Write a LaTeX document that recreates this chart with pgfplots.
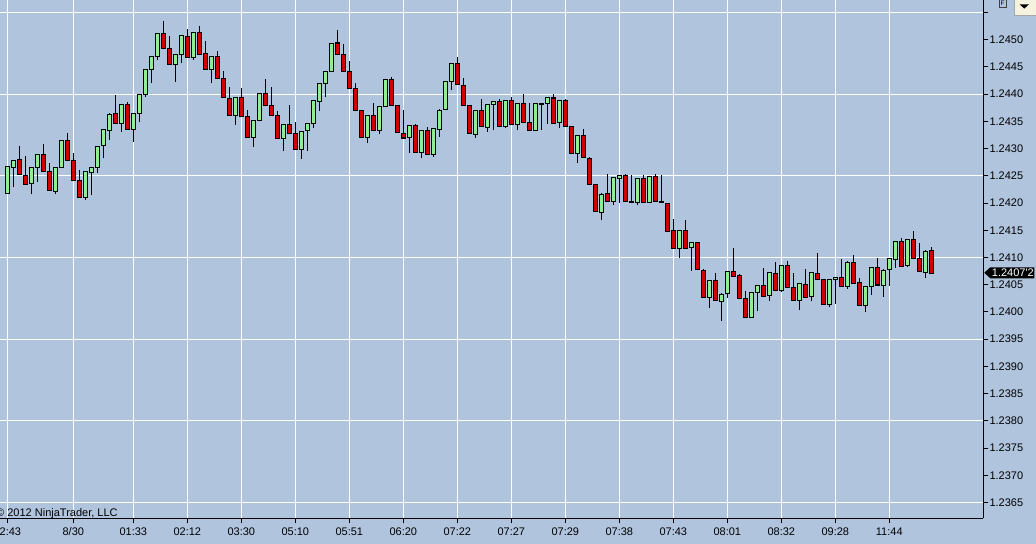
\documentclass[border=0pt]{standalone}
\usepackage{fontspec}
\setmainfont{Liberation Sans}
\usepackage{pgfplots}
\usepackage{pgfplotstable}
\pgfplotsset{compat=1.18}

\definecolor{chartbg}{RGB}{176,196,222}
\definecolor{upbar}{RGB}{144,238,144}
\definecolor{downbar}{RGB}{210,0,0}
\definecolor{btnfill}{RGB}{246,242,224}

% range bars: index, open, high, low, close
\pgfplotstableread{
i o h l c
0 1.24218 1.24269 1.24217 1.24268
1 1.24267 1.24280 1.24229 1.24280
2 1.24280 1.24305 1.24253 1.24253
3 1.24253 1.24287 1.24236 1.24236
4 1.24236 1.24266 1.24216 1.24266
5 1.24266 1.24290 1.24238 1.24290
6 1.24290 1.24309 1.24258 1.24258
7 1.24258 1.24273 1.24223 1.24223
8 1.24223 1.24266 1.24216 1.24266
9 1.24266 1.24316 1.24266 1.24316
10 1.24315 1.24329 1.24279 1.24279
11 1.24279 1.24292 1.24242 1.24242
12 1.24242 1.24260 1.24211 1.24211
13 1.24211 1.24258 1.24206 1.24258
14 1.24258 1.24266 1.24215 1.24266
15 1.24266 1.24305 1.24255 1.24305
16 1.24305 1.24334 1.24282 1.24334
17 1.24334 1.24365 1.24315 1.24365
18 1.24365 1.24399 1.24347 1.24347
19 1.24347 1.24382 1.24331 1.24382
20 1.24382 1.24386 1.24336 1.24336
21 1.24336 1.24365 1.24313 1.24365
22 1.24365 1.24400 1.24348 1.24400
23 1.24400 1.24445 1.24394 1.24445
24 1.24445 1.24470 1.24420 1.24470
25 1.24470 1.24512 1.24462 1.24512
26 1.24512 1.24535 1.24485 1.24485
27 1.24485 1.24506 1.24455 1.24455
28 1.24455 1.24473 1.24423 1.24473
29 1.24473 1.24508 1.24457 1.24508
30 1.24508 1.24519 1.24469 1.24469
31 1.24469 1.24514 1.24463 1.24514
32 1.24514 1.24526 1.24475 1.24475
33 1.24475 1.24497 1.24446 1.24446
34 1.24446 1.24470 1.24420 1.24470
35 1.24470 1.24480 1.24429 1.24429
36 1.24429 1.24443 1.24393 1.24393
37 1.24393 1.24414 1.24361 1.24361
38 1.24361 1.24394 1.24344 1.24394
39 1.24394 1.24412 1.24359 1.24359
40 1.24359 1.24371 1.24321 1.24321
41 1.24321 1.24353 1.24303 1.24353
42 1.24353 1.24402 1.24353 1.24402
43 1.24402 1.24428 1.24379 1.24379
44 1.24379 1.24413 1.24361 1.24361
45 1.24361 1.24370 1.24319 1.24319
46 1.24319 1.24345 1.24295 1.24345
47 1.24345 1.24380 1.24330 1.24330
48 1.24330 1.24348 1.24299 1.24299
49 1.24299 1.24333 1.24281 1.24333
50 1.24333 1.24347 1.24296 1.24347
51 1.24347 1.24388 1.24337 1.24388
52 1.24388 1.24420 1.24370 1.24420
53 1.24420 1.24443 1.24394 1.24443
54 1.24443 1.24494 1.24443 1.24494
55 1.24494 1.24518 1.24472 1.24472
56 1.24472 1.24493 1.24442 1.24442
57 1.24442 1.24461 1.24411 1.24411
58 1.24411 1.24421 1.24371 1.24371
59 1.24371 1.24371 1.24321 1.24321
60 1.24321 1.24361 1.24311 1.24361
61 1.24361 1.24384 1.24334 1.24334
62 1.24334 1.24378 1.24326 1.24378
63 1.24378 1.24428 1.24378 1.24428
64 1.24428 1.24431 1.24380 1.24380
65 1.24380 1.24380 1.24330 1.24330
66 1.24330 1.24371 1.24321 1.24321
67 1.24321 1.24343 1.24292 1.24343
68 1.24343 1.24345 1.24293 1.24293
69 1.24293 1.24334 1.24282 1.24334
70 1.24334 1.24339 1.24290 1.24290
71 1.24290 1.24337 1.24285 1.24337
72 1.24337 1.24372 1.24322 1.24372
73 1.24372 1.24424 1.24372 1.24424
74 1.24424 1.24457 1.24407 1.24457
75 1.24457 1.24469 1.24417 1.24417
76 1.24417 1.24429 1.24380 1.24380
77 1.24380 1.24380 1.24328 1.24328
78 1.24328 1.24371 1.24320 1.24371
79 1.24371 1.24391 1.24341 1.24341
80 1.24341 1.24382 1.24331 1.24382
81 1.24382 1.24387 1.24334 1.24387
82 1.24387 1.24391 1.24341 1.24341
83 1.24341 1.24389 1.24337 1.24389
84 1.24389 1.24394 1.24345 1.24345
85 1.24345 1.24383 1.24334 1.24383
86 1.24383 1.24400 1.24348 1.24348
87 1.24348 1.24383 1.24334 1.24334
88 1.24334 1.24382 1.24332 1.24382
89 1.24383 1.24383 1.24334 1.24383
90 1.24383 1.24394 1.24345 1.24394
91 1.24394 1.24400 1.24348 1.24348
92 1.24348 1.24389 1.24337 1.24389
93 1.24389 1.24391 1.24341 1.24341
94 1.24341 1.24341 1.24292 1.24292
95 1.24292 1.24325 1.24274 1.24325
96 1.24325 1.24336 1.24284 1.24284
97 1.24284 1.24284 1.24235 1.24235
98 1.24235 1.24235 1.24185 1.24185
99 1.24185 1.24218 1.24168 1.24218
100 1.24218 1.24253 1.24203 1.24203
101 1.24203 1.24247 1.24196 1.24247
102 1.24247 1.24251 1.24201 1.24251
103 1.24251 1.24253 1.24203 1.24203
104 1.24203 1.24251 1.24203 1.24203
105 1.24201 1.24246 1.24196 1.24246
106 1.24246 1.24251 1.24201 1.24201
107 1.24201 1.24249 1.24200 1.24249
108 1.24249 1.24253 1.24203 1.24203
109 1.24203 1.24251 1.24203 1.24203
110 1.24201 1.24201 1.24150 1.24150
111 1.24151 1.24170 1.24118 1.24118
112 1.24118 1.24150 1.24099 1.24150
113 1.24150 1.24169 1.24118 1.24118
114 1.24118 1.24128 1.24075 1.24128
115 1.24128 1.24128 1.24078 1.24078
116 1.24078 1.24078 1.24028 1.24028
117 1.24028 1.24058 1.24007 1.24058
118 1.24058 1.24071 1.24021 1.24021
119 1.24021 1.24034 1.23984 1.24034
120 1.24034 1.24076 1.24026 1.24076
121 1.24076 1.24118 1.24067 1.24067
122 1.24067 1.24069 1.24026 1.24026
123 1.24026 1.24039 1.23990 1.23990
124 1.23990 1.24037 1.23990 1.24037
125 1.24037 1.24050 1.24001 1.24050
126 1.24050 1.24080 1.24030 1.24030
127 1.24030 1.24072 1.24021 1.24072
128 1.24072 1.24092 1.24041 1.24041
129 1.24041 1.24087 1.24037 1.24087
130 1.24087 1.24094 1.24045 1.24045
131 1.24045 1.24071 1.24021 1.24021
132 1.24021 1.24052 1.24003 1.24052
133 1.24052 1.24078 1.24028 1.24028
134 1.24028 1.24072 1.24021 1.24072
135 1.24072 1.24109 1.24060 1.24060
136 1.24060 1.24060 1.24015 1.24015
137 1.24015 1.24061 1.24010 1.24061
138 1.24061 1.24065 1.24015 1.24065
139 1.24065 1.24098 1.24048 1.24048
140 1.24048 1.24093 1.24043 1.24093
141 1.24093 1.24104 1.24054 1.24054
142 1.24054 1.24063 1.24013 1.24013
143 1.24013 1.24048 1.23999 1.24048
144 1.24048 1.24083 1.24032 1.24083
145 1.24083 1.24100 1.24050 1.24050
146 1.24050 1.24078 1.24028 1.24078
147 1.24078 1.24098 1.24048 1.24098
148 1.24098 1.24131 1.24081 1.24131
149 1.24131 1.24135 1.24085 1.24085
150 1.24085 1.24133 1.24083 1.24133
151 1.24133 1.24148 1.24098 1.24098
152 1.24098 1.24126 1.24074 1.24074
153 1.24074 1.24113 1.24063 1.24113
154 1.24113 1.24120 1.24072 1.24072
}\bars

\begin{document}
\begin{tikzpicture}[x=1bp, y=1bp, font=\fontsize{11bp}{13bp}\selectfont]
\path[use as bounding box, fill=chartbg] (0bp,0bp) rectangle (1036bp,544bp);

\begin{axis}[
    at={(0bp,25.7bp)}, anchor=south west,
    width=983.3bp, height=518.3bp, scale only axis,
    xmin=-1.217, xmax=162.67,
    ymin=1.23621, ymax=1.24573,
    axis x line*=bottom, axis y line*=right,
    axis line style={black, line width=1bp},
    tick style={black, line width=1bp},
    tick align=outside, major tick length=5bp, minor tick length=0pt,
    xtick={0,11,21,30,39,48,57,66,75,84,93,102,111,120,129,138,147},
    xticklabels={22:43,8/30,01:33,02:12,03:30,05:10,05:51,06:20,07:22,07:27,07:29,07:38,07:43,08:01,08:32,09:28,11:44},
    ytick={1.2365,1.2370,1.2375,1.2380,1.2385,1.2390,1.2395,1.2400,1.2405,1.2410,
           1.2415,1.2420,1.2425,1.2430,1.2435,1.2440,1.2445,1.2450,1.2455},
    yticklabels={1.2365,1.2370,1.2375,1.2380,1.2385,1.2390,1.2395,1.2400,1.2405,1.2410,
           1.2415,1.2420,1.2425,1.2430,1.2435,1.2440,1.2445,1.2450,{}},
    minor ytick={1.2365,1.2380,1.2395,1.2410,1.2425,1.2440,1.2455},
    xmajorgrids, yminorgrids,
    grid style={white, line width=1bp},
    xticklabel style={inner sep=0pt, anchor=base, yshift=-12.4bp},
    yticklabel style={inner sep=0pt, xshift=1bp},
]
% wicks
\addplot[draw=none, mark=none, forget plot,
    error bars/.cd, y dir=plus, y explicit, error mark=none,
    error bar style={draw=black, line width=1bp}]
    table[x=i, y=l, y error expr=\thisrow{h}-\thisrow{l}] {\bars};
% body outlines
\addplot[draw=none, mark=none, forget plot,
    error bars/.cd, y dir=both, y explicit, error mark=none,
    error bar style={draw=black, line width=5bp, line cap=butt}]
    table[x=i, y expr={(\thisrow{o}+\thisrow{c})/2},
          y error expr={abs(\thisrow{c}-\thisrow{o})/2+0.0000092}] {\bars};
% up bodies
\addplot[draw=none, mark=none, forget plot,
    error bars/.cd, y dir=both, y explicit, error mark=none,
    error bar style={draw=upbar, line width=3bp, line cap=butt}]
    table[x=i, y expr={(\thisrow{o}+\thisrow{c})/2},
          y error expr={max((\thisrow{c}-\thisrow{o})/2-0.0000092,0)}] {\bars};
% down bodies
\addplot[draw=none, mark=none, forget plot,
    error bars/.cd, y dir=both, y explicit, error mark=none,
    error bar style={draw=downbar, line width=3bp, line cap=butt}]
    table[x=i, y expr={(\thisrow{o}+\thisrow{c})/2},
          y error expr={max((\thisrow{o}-\thisrow{c})/2-0.0000092,0)}] {\bars};

\coordinate (tag) at (axis cs:162.67,1.24072);
\end{axis}

% last price marker
\fill[black] ([xshift=1bp]tag) -- ++(6,5.5) -- ++(44,0) -- ++(0,-11) -- ++(-44,0) -- cycle;
\node[white, anchor=west, inner sep=0pt] at ([xshift=8.4bp]tag) {1.2407\textquotesingle2};

% copyright
\node[anchor=base west, inner sep=0pt] at (-4,27.3) {\textcopyright{} 2012 NinjaTrader, LLC};

% window widgets top right
\draw[black!75, line width=0.7bp, fill=chartbg] (999,536.7) rectangle (1006.3,545);
\node[inner sep=0pt, font=\fontsize{6.5bp}{6.5bp}\selectfont] at (1002.6,540.4) {F};
\draw[black!35, line width=0.8bp, fill=btnfill] (1014.4,529) rectangle (1037,545);
\fill[black] (1019.5,539.7) -- (1029,539.7) -- (1024.3,535.4) -- cycle;
\end{tikzpicture}
\end{document}
